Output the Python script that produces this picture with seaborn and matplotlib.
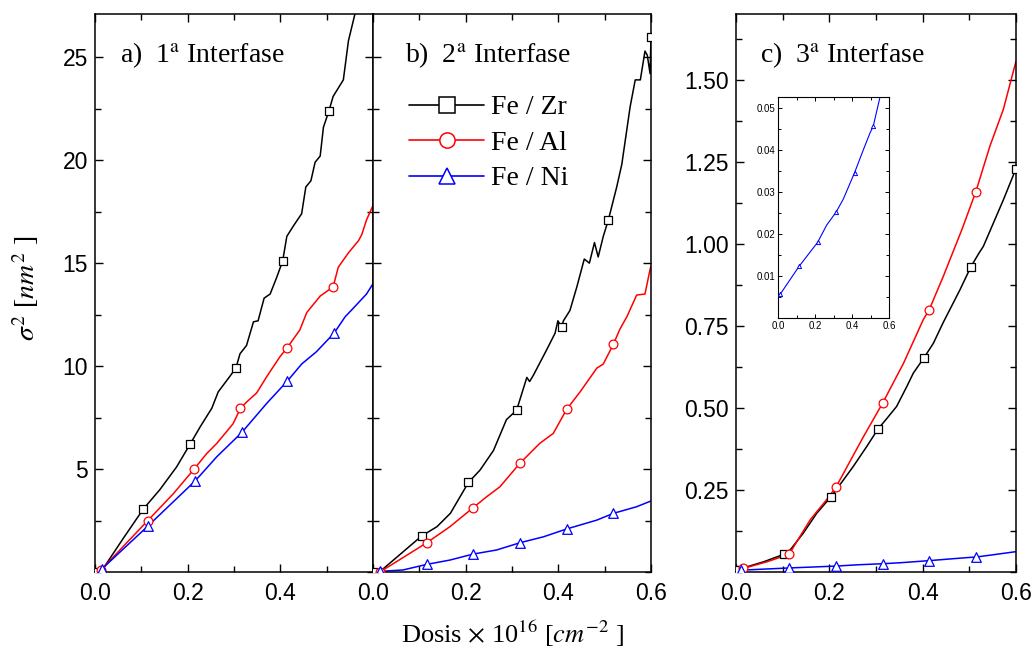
import numpy as np
import pandas as pd
import matplotlib
matplotlib.use("Agg")
import matplotlib.pyplot as plt
import seaborn as sns
from matplotlib.ticker import MultipleLocator, FixedLocator
from matplotlib.lines import Line2D

# ---------------- data ----------------
series_names = ["Fe / Zr", "Fe / Al", "Fe / Ni"]
panel_titles = ["a)  1$^{\\mathrm{a}}$ Interfase", "b)  2$^{\\mathrm{a}}$ Interfase",
                "c)  3$^{\\mathrm{a}}$ Interfase"]

# Panel a
a_zr_x = [0.0, 0.018, 0.060, 0.104, 0.140, 0.176, 0.205, 0.227, 0.252, 0.266, 0.291, 0.304, 0.313,
          0.327, 0.342, 0.352, 0.365, 0.378, 0.392, 0.405, 0.414, 0.428, 0.446, 0.455, 0.466,
          0.475, 0.486, 0.493, 0.505, 0.514, 0.536, 0.547, 0.561, 0.58]
a_zr_y = [0.0, 0.18, 1.6, 3.05, 4.0, 5.1, 6.2, 7.05, 7.95, 8.75, 9.5, 9.9, 10.6,
          11.0, 12.15, 12.2, 13.3, 13.5, 14.3, 15.1, 16.3, 16.8, 17.4, 18.7, 19.0,
          19.9, 20.2, 21.6, 22.4, 23.1, 23.9, 25.8, 27.1, 29.5]
a_zr_mk = [0.0, 0.104, 0.205, 0.304, 0.405, 0.505]

a_al_x = [0.013, 0.114, 0.169, 0.214, 0.241, 0.263, 0.298, 0.314, 0.327, 0.349, 0.371, 0.399,
          0.415, 0.442, 0.457, 0.486, 0.514, 0.525, 0.547, 0.569, 0.576, 0.586, 0.6]
a_al_y = [0.1, 2.5, 3.8, 5.0, 5.75, 6.25, 7.2, 7.95, 8.25, 8.7, 9.5, 10.45,
          10.9, 11.75, 12.6, 13.4, 13.85, 14.8, 15.5, 16.1, 16.4, 17.1, 17.8]
a_al_mk = [0.013, 0.114, 0.214, 0.314, 0.415, 0.514]

a_ni_x = [0.015, 0.115, 0.216, 0.263, 0.317, 0.371, 0.415, 0.446, 0.478, 0.516, 0.54, 0.557, 0.586, 0.6]
a_ni_y = [0.15, 2.25, 4.42, 5.6, 6.78, 8.2, 9.27, 10.1, 10.7, 11.6, 12.4, 12.8, 13.5, 14.0]
a_ni_mk = [0.015, 0.115, 0.216, 0.317, 0.415, 0.516]

# Panel b
b_zr_x = [0.0, 0.015, 0.105, 0.138, 0.167, 0.206, 0.231, 0.26, 0.288, 0.310, 0.332, 0.338, 0.346,
          0.375, 0.393, 0.399, 0.407, 0.411, 0.425, 0.44, 0.456, 0.467, 0.478, 0.486, 0.497,
          0.508, 0.526, 0.537, 0.555, 0.566, 0.577, 0.587, 0.592, 0.598, 0.6]
b_zr_y = [0.0, 0.02, 1.75, 2.2, 2.85, 4.35, 4.95, 5.9, 7.4, 7.86, 9.45, 9.25, 9.55,
          10.8, 11.6, 12.2, 11.9, 12.2, 12.7, 13.85, 15.2, 15.0, 16.0, 15.3, 16.3,
          17.1, 18.7, 19.8, 22.6, 23.9, 23.9, 25.3, 25.1, 24.2, 26.0]
b_zr_mk = [0.0, 0.105, 0.206, 0.310, 0.407, 0.508, 0.6]

b_al_x = [0.015, 0.116, 0.166, 0.216, 0.245, 0.274, 0.317, 0.36, 0.389, 0.418, 0.447, 0.483,
          0.497, 0.519, 0.533, 0.548, 0.569, 0.587, 0.598, 0.6]
b_al_y = [0.0, 1.42, 2.2, 3.12, 3.65, 4.14, 5.28, 6.25, 6.73, 7.9, 8.75, 9.9,
          10.1, 11.07, 11.8, 12.4, 13.45, 13.5, 14.7, 14.85]
b_al_mk = [0.015, 0.116, 0.216, 0.317, 0.418, 0.519]

b_ni_x = [0.015, 0.065, 0.116, 0.166, 0.216, 0.267, 0.317, 0.368, 0.418, 0.483, 0.519, 0.569, 0.6]
b_ni_y = [0.03, 0.1, 0.37, 0.58, 0.87, 1.07, 1.42, 1.71, 2.09, 2.52, 2.85, 3.17, 3.45]
b_ni_mk = [0.015, 0.116, 0.216, 0.317, 0.418, 0.519]

# Panel c
c_zr_x = [0.0, 0.012, 0.059, 0.103, 0.116, 0.144, 0.173, 0.204, 0.23, 0.251, 0.28, 0.304, 0.324,
          0.344, 0.366, 0.38, 0.403, 0.423, 0.444, 0.48, 0.503, 0.52, 0.53, 0.573, 0.6]
c_zr_y = [0.005, 0.011, 0.031, 0.054, 0.067, 0.118, 0.179, 0.230, 0.28, 0.321, 0.382, 0.435, 0.469,
          0.504, 0.565, 0.606, 0.653, 0.697, 0.76, 0.86, 0.929, 0.97, 0.992, 1.134, 1.229]
c_zr_mk = [0.0, 0.103, 0.204, 0.304, 0.403, 0.503, 0.6]

c_al_x = [0.016, 0.066, 0.114, 0.130, 0.159, 0.194, 0.214, 0.273, 0.314, 0.359, 0.401, 0.414,
          0.444, 0.484, 0.514, 0.544, 0.573, 0.6]
c_al_y = [0.011, 0.031, 0.054, 0.092, 0.159, 0.22, 0.258, 0.412, 0.514, 0.636, 0.768, 0.799,
          0.900, 1.043, 1.159, 1.297, 1.41, 1.556]
c_al_mk = [0.016, 0.114, 0.214, 0.314, 0.414, 0.514]

c_ni_x = [0.011, 0.114, 0.214, 0.263, 0.314, 0.353, 0.414, 0.461, 0.497, 0.515, 0.551, 0.6]
c_ni_y = [0.0056, 0.0123, 0.018, 0.0221, 0.0252, 0.0283, 0.0346, 0.040, 0.044, 0.0457, 0.0525, 0.062]
c_ni_mk = [0.011, 0.114, 0.214, 0.314, 0.414, 0.515]

x_ticks = [0.0, 0.2, 0.4, 0.6]
x_tick_labels = ["0.0", "0.2", "0.4", "0.6"]
ab_y_ticks = [5, 10, 15, 20, 25]
c_y_ticks = [0.25, 0.50, 0.75, 1.00, 1.25, 1.50]
inset_y_ticks = [0.01, 0.02, 0.03, 0.04, 0.05]

# ---------------- style ----------------
sns.set_theme(style="ticks")
plt.rcParams["font.family"] = ["Liberation Serif", "DejaVu Serif"]
plt.rcParams["mathtext.fontset"] = "stix"
plt.rcParams["axes.linewidth"] = 1.1
plt.rcParams["axes.edgecolor"] = "black"
plt.rcParams["text.color"] = "black"
plt.rcParams["axes.labelcolor"] = "black"
plt.rcParams["xtick.color"] = "black"
plt.rcParams["ytick.color"] = "black"

COL = {"Fe / Zr": "black", "Fe / Al": "#ff0000", "Fe / Ni": "#0000ff"}
MK = {"Fe / Zr": "s", "Fe / Al": "o", "Fe / Ni": "^"}
MS = {"Fe / Zr": 26, "Fe / Al": 40, "Fe / Ni": 48}

W, H = 1034, 650
fig = plt.figure(figsize=(W / 100, H / 100), dpi=100)


def rect(l, t, r, b):
    return [l / W, 1 - b / H, (r - l) / W, (b - t) / H]


axa = fig.add_axes(rect(95, 14, 373, 572))
axb = fig.add_axes(rect(373, 14, 651, 572))
axc = fig.add_axes(rect(736, 14, 1016, 572))
axi = fig.add_axes(rect(778, 97, 889, 318))


def draw(ax, name, x, y, mk, lw=1.1, ms=None, mlw=0.9):
    x = np.asarray(x, float)
    y = np.asarray(y, float)
    df = pd.DataFrame({"x": x, "y": y})
    sns.lineplot(data=df, x="x", y="y", ax=ax, color=COL[name], lw=lw,
                 sort=False, estimator=None, zorder=2)
    m = np.isin(np.round(x, 3), np.round(np.asarray(mk, float), 3))
    sns.scatterplot(x=x[m], y=y[m], ax=ax, marker=MK[name],
                    s=MS[name] if ms is None else ms, color="white",
                    edgecolor=COL[name], linewidth=mlw, zorder=3)


draw(axa, "Fe / Zr", a_zr_x, a_zr_y, a_zr_mk)
draw(axa, "Fe / Al", a_al_x, a_al_y, a_al_mk)
draw(axa, "Fe / Ni", a_ni_x, a_ni_y, a_ni_mk)
draw(axb, "Fe / Zr", b_zr_x, b_zr_y, b_zr_mk)
draw(axb, "Fe / Al", b_al_x, b_al_y, b_al_mk)
draw(axb, "Fe / Ni", b_ni_x, b_ni_y, b_ni_mk)
draw(axc, "Fe / Zr", c_zr_x, c_zr_y, c_zr_mk)
draw(axc, "Fe / Al", c_al_x, c_al_y, c_al_mk)
draw(axc, "Fe / Ni", c_ni_x, c_ni_y, c_ni_mk)
draw(axi, "Fe / Ni", c_ni_x, c_ni_y, c_ni_mk, lw=0.8, ms=9, mlw=0.7)

for ax in (axa, axb, axc, axi):
    ax.set_xlabel("")
    ax.set_ylabel("")
    ax.set_xlim(0, 0.6)
    ax.xaxis.set_minor_locator(MultipleLocator(0.1))
    for s in ax.spines.values():
        s.set_visible(True)
        s.set_color("black")

for ax in (axa, axb, axc):
    ax.tick_params(which="both", direction="in", top=True, right=True,
                   labelsize=16.5, labelfontfamily="Liberation Sans", colors="black")
    ax.tick_params(which="major", length=6, width=1.0)
    ax.tick_params(which="minor", length=4, width=1.0)
    ax.tick_params(axis="x", pad=7)
    ax.tick_params(axis="y", pad=5)

for ax in (axa, axb):
    ax.set_ylim(0, 27.1)
    ax.yaxis.set_major_locator(FixedLocator(ab_y_ticks))
    ax.yaxis.set_minor_locator(MultipleLocator(2.5))

axa.set_xticks(x_ticks, labels=x_tick_labels[:3] + [""])
axa.set_yticks(ab_y_ticks, labels=[str(v) for v in ab_y_ticks])
axb.set_xticks(x_ticks, labels=x_tick_labels)
axb.tick_params(axis="y", labelleft=False)

axc.set_ylim(0, 1.70)
axc.set_xticks(x_ticks, labels=x_tick_labels)
axc.set_yticks(c_y_ticks, labels=[f"{v:.2f}" for v in c_y_ticks])
axc.yaxis.set_minor_locator(MultipleLocator(0.125))

# inset
axi.set_ylim(0, 0.0526)
axi.set_xticks(x_ticks, labels=x_tick_labels)
axi.set_yticks(inset_y_ticks, labels=[f"{v:.2f}" for v in inset_y_ticks])
axi.yaxis.set_minor_locator(MultipleLocator(0.005))
axi.tick_params(which="both", direction="in", top=True, right=True,
                labelsize=7, labelfontfamily="Liberation Sans", pad=2, colors="black")
axi.tick_params(which="major", length=3, width=0.7)
axi.tick_params(which="minor", length=2, width=0.7)
for s in axi.spines.values():
    s.set_linewidth(0.8)

# panel titles
for ax, t, xf in ((axa, panel_titles[0], 0.09), (axb, panel_titles[1], 0.115),
                  (axc, panel_titles[2], 0.086)):
    ax.text(xf, 0.914, t, transform=ax.transAxes, fontsize=20, va="baseline", ha="left",
            color="black")

# legend
handles = [Line2D([], [], color=COL[n], marker=MK[n], markersize=11, markerfacecolor="white",
                  markeredgecolor=COL[n], lw=1.2, markeredgewidth=1.1) for n in series_names]
leg = axb.legend(handles, series_names, loc="upper left", bbox_to_anchor=(0.13, 0.855),
                 frameon=False, fontsize=20, handlelength=2.7, handletextpad=0.25,
                 labelspacing=0.36, borderpad=0, borderaxespad=0)
for t in leg.get_texts():
    t.set_color("black")

# axis labels
fig.text(26 / W, 1 - 288 / H, "$\\sigma^{2}$ [$nm^{2}$ ]", rotation=90, fontsize=20,
         ha="center", va="center")
fig.text(512 / W, 1 - 634 / H, "Dosis $\\times$ 10$^{16}$ [$cm^{-2}$ ]", fontsize=19,
         ha="center", va="center")

fig.savefig("out.png", dpi=100)
